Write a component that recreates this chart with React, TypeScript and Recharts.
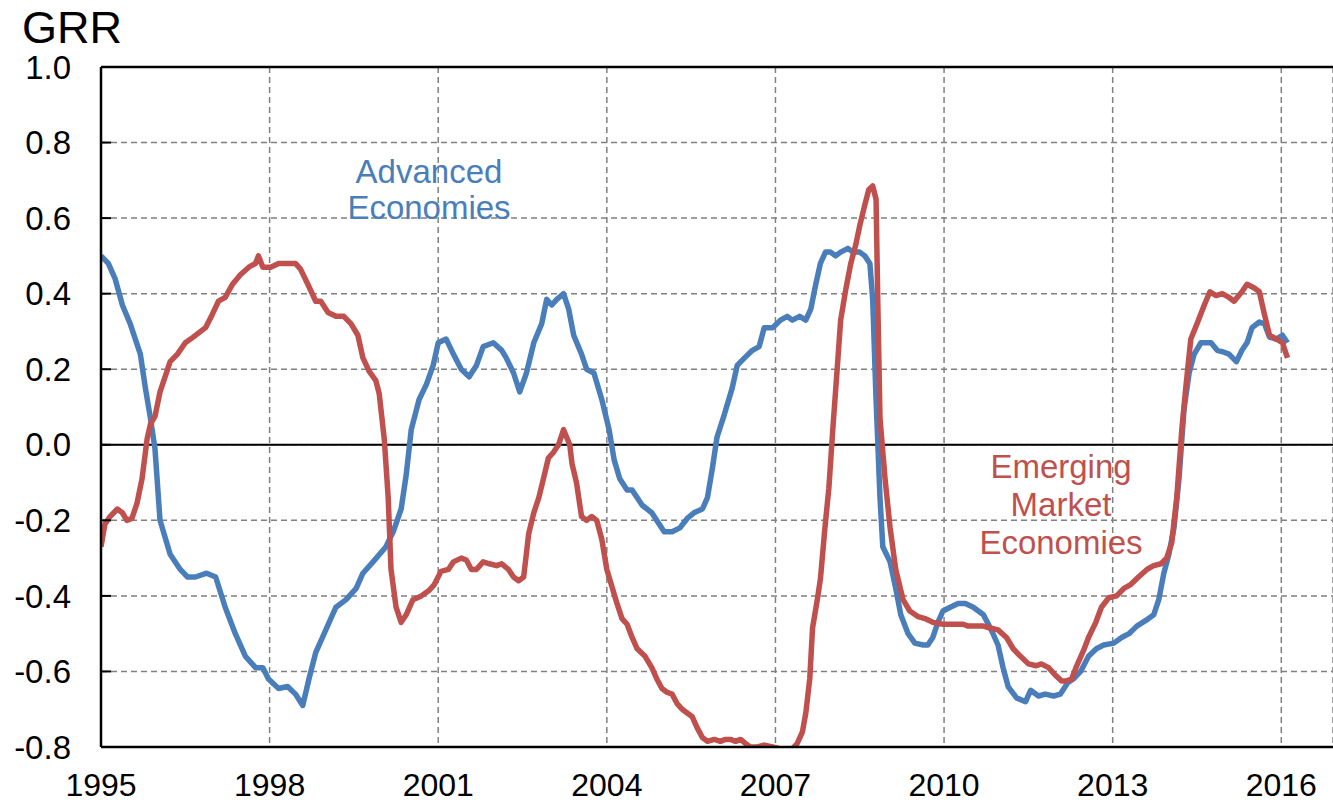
import React from 'react';
import { LineChart, Line, XAxis, YAxis, CartesianGrid, ReferenceLine } from 'recharts';

const FONT = '"Liberation Sans", Arial, sans-serif';
const BLUE = '#4a7ebb';
const RED = '#c0504d';

const X_TICKS = [1995, 1998, 2001, 2004, 2007, 2010, 2013, 2016];
const Y_TICKS = [-0.8, -0.6, -0.4, -0.2, 0, 0.2, 0.4, 0.6, 0.8, 1.0];

// Advanced Economies
const advYears = [
  1995.0, 1995.13, 1995.25, 1995.38, 1995.52, 1995.7, 1995.79, 1995.88, 1995.96, 1996.05,
  1996.23, 1996.41, 1996.54, 1996.68, 1996.88, 1997.04, 1997.21, 1997.39, 1997.57, 1997.75,
  1997.88, 1997.98, 1998.16, 1998.32, 1998.46, 1998.59, 1998.7, 1998.82, 1999.0, 1999.18,
  1999.36, 1999.54, 1999.66, 1999.84, 2000.07, 2000.2, 2000.34, 2000.43, 2000.52, 2000.66,
  2000.79, 2000.91, 2001.0, 2001.14, 2001.27, 2001.41, 2001.55, 2001.68, 2001.8, 2001.98,
  2002.13, 2002.21, 2002.34, 2002.45, 2002.57, 2002.7, 2002.84, 2002.93, 2003.02, 2003.11,
  2003.23, 2003.32, 2003.41, 2003.55, 2003.64, 2003.77, 2003.91, 2004.04, 2004.13, 2004.23,
  2004.36, 2004.45, 2004.63, 2004.8, 2004.93, 2005.02, 2005.16, 2005.3, 2005.43, 2005.55,
  2005.7, 2005.79, 2005.88, 2005.96, 2006.09, 2006.23, 2006.32, 2006.45, 2006.59, 2006.71,
  2006.8, 2006.95, 2007.09, 2007.21, 2007.3, 2007.43, 2007.54, 2007.63, 2007.71, 2007.8,
  2007.89, 2007.98, 2008.07, 2008.16, 2008.29, 2008.38, 2008.5, 2008.59, 2008.68, 2008.73,
  2008.79, 2008.86, 2008.91, 2009.04, 2009.14, 2009.23, 2009.36, 2009.48, 2009.63, 2009.71,
  2009.8, 2009.89, 2009.98, 2010.11, 2010.25, 2010.38, 2010.52, 2010.7, 2010.84, 2010.96,
  2011.05, 2011.14, 2011.29, 2011.45, 2011.54, 2011.68, 2011.8, 2011.95, 2012.07, 2012.2,
  2012.3, 2012.43, 2012.57, 2012.71, 2012.84, 2013.02, 2013.16, 2013.29, 2013.43, 2013.59,
  2013.73, 2013.82, 2013.91, 2014.0, 2014.09, 2014.18, 2014.27, 2014.36, 2014.45, 2014.57,
  2014.75, 2014.86, 2014.98, 2015.07, 2015.2, 2015.3, 2015.39, 2015.48, 2015.61, 2015.7,
  2015.79, 2015.91, 2016.02, 2016.11,
];
const advValues = [
  0.5, 0.48, 0.44, 0.37, 0.32, 0.24, 0.15, 0.07, -0.01, -0.2,
  -0.29, -0.33, -0.35, -0.35, -0.34, -0.35, -0.43, -0.5, -0.56, -0.59,
  -0.59, -0.62, -0.645, -0.64, -0.66, -0.69, -0.62, -0.55, -0.49, -0.43,
  -0.41, -0.38, -0.34, -0.31, -0.27, -0.23, -0.17, -0.08, 0.04, 0.12,
  0.16, 0.21, 0.27, 0.28, 0.24, 0.2, 0.18, 0.21, 0.26, 0.27,
  0.25, 0.23, 0.19, 0.14, 0.19, 0.27, 0.32, 0.385, 0.37, 0.385,
  0.4, 0.36, 0.29, 0.24, 0.2, 0.19, 0.12, 0.04, -0.04, -0.09,
  -0.12, -0.12, -0.16, -0.18, -0.21, -0.23, -0.23, -0.22, -0.195, -0.18,
  -0.17, -0.14, -0.06, 0.02, 0.08, 0.15, 0.21, 0.23, 0.25, 0.26,
  0.31, 0.31, 0.33, 0.34, 0.33, 0.34, 0.33, 0.36, 0.42, 0.48,
  0.51, 0.51, 0.5, 0.51, 0.52, 0.51, 0.51, 0.5, 0.48, 0.385,
  0.12, -0.14, -0.27, -0.31, -0.38, -0.45, -0.5, -0.525, -0.53, -0.53,
  -0.51, -0.47, -0.44, -0.43, -0.42, -0.42, -0.43, -0.45, -0.49, -0.53,
  -0.59, -0.64, -0.67, -0.68, -0.65, -0.665, -0.66, -0.665, -0.66, -0.63,
  -0.62, -0.6, -0.56, -0.54, -0.53, -0.525, -0.51, -0.5, -0.48, -0.465,
  -0.45, -0.41, -0.34, -0.29, -0.22, -0.09, 0.095, 0.19, 0.24, 0.27,
  0.27, 0.25, 0.245, 0.24, 0.22, 0.25, 0.27, 0.31, 0.325, 0.32,
  0.285, 0.28, 0.29, 0.27,
];

// Emerging Market Economies
const emYears = [
  1995.0, 1995.07, 1995.16, 1995.29, 1995.38, 1995.46, 1995.55, 1995.64, 1995.73, 1995.82,
  1995.88, 1995.96, 1996.05, 1996.14, 1996.23, 1996.36, 1996.5, 1996.64, 1996.86, 1996.98,
  1997.09, 1997.21, 1997.34, 1997.48, 1997.63, 1997.75, 1997.8, 1997.88, 1998.02, 1998.16,
  1998.29, 1998.46, 1998.55, 1998.68, 1998.82, 1998.91, 1999.04, 1999.18, 1999.32, 1999.45,
  1999.57, 1999.66, 1999.77, 1999.89, 1999.95, 2000.04, 2000.11, 2000.16, 2000.25, 2000.34,
  2000.43, 2000.55, 2000.7, 2000.84, 2000.93, 2001.05, 2001.18, 2001.27, 2001.41, 2001.5,
  2001.59, 2001.68, 2001.8, 2001.91, 2002.04, 2002.13, 2002.25, 2002.34, 2002.43, 2002.52,
  2002.61, 2002.7, 2002.79, 2002.88, 2002.96, 2003.05, 2003.14, 2003.23, 2003.34, 2003.38,
  2003.46, 2003.55, 2003.64, 2003.73, 2003.82, 2003.91, 2004.0, 2004.09, 2004.18, 2004.27,
  2004.36, 2004.45, 2004.54, 2004.68, 2004.8, 2004.89, 2004.98, 2005.07, 2005.16, 2005.25,
  2005.34, 2005.43, 2005.52, 2005.61, 2005.7, 2005.79, 2005.91, 2006.02, 2006.11, 2006.2,
  2006.29, 2006.38, 2006.46, 2006.55, 2006.68, 2006.8, 2006.95, 2007.09, 2007.3, 2007.39,
  2007.48, 2007.54, 2007.61, 2007.66, 2007.75, 2007.8, 2007.88, 2007.95, 2008.02, 2008.11,
  2008.16, 2008.25, 2008.34, 2008.43, 2008.5, 2008.59, 2008.66, 2008.73, 2008.79, 2008.82,
  2008.86, 2008.95, 2009.04, 2009.14, 2009.27, 2009.39, 2009.54, 2009.66, 2009.8, 2009.98,
  2010.16, 2010.34, 2010.43, 2010.55, 2010.7, 2010.82, 2010.96, 2011.11, 2011.23, 2011.36,
  2011.5, 2011.64, 2011.73, 2011.86, 2011.98, 2012.09, 2012.18, 2012.27, 2012.36, 2012.48,
  2012.57, 2012.7, 2012.8, 2012.93, 2013.07, 2013.2, 2013.32, 2013.46, 2013.61, 2013.73,
  2013.86, 2013.96, 2014.05, 2014.14, 2014.23, 2014.3, 2014.39, 2014.5, 2014.63, 2014.73,
  2014.84, 2014.95, 2015.07, 2015.16, 2015.3, 2015.39, 2015.52, 2015.61, 2015.7, 2015.79,
  2015.91, 2016.02, 2016.11,
];
const emValues = [
  -0.27, -0.21, -0.19, -0.17, -0.18, -0.2, -0.195, -0.155, -0.09, 0.015,
  0.055, 0.075, 0.14, 0.18, 0.22, 0.24, 0.27, 0.285, 0.31, 0.345,
  0.38, 0.39, 0.425, 0.45, 0.47, 0.48, 0.5, 0.47, 0.47, 0.48,
  0.48, 0.48, 0.465, 0.425, 0.38, 0.38, 0.35, 0.34, 0.34, 0.32,
  0.29, 0.23, 0.195, 0.17, 0.135, 0.015, -0.14, -0.33, -0.43, -0.47,
  -0.45, -0.41, -0.4, -0.385, -0.37, -0.335, -0.33, -0.31, -0.3, -0.305,
  -0.33, -0.33, -0.31, -0.315, -0.32, -0.315, -0.33, -0.35, -0.36, -0.35,
  -0.235, -0.18, -0.14, -0.085, -0.035, -0.02, 0.0, 0.04, 0.0, -0.05,
  -0.1, -0.19, -0.2, -0.19, -0.2, -0.25, -0.33, -0.375, -0.42, -0.46,
  -0.475, -0.51, -0.54, -0.56, -0.59, -0.62, -0.645, -0.655, -0.66, -0.685,
  -0.7, -0.71, -0.72, -0.75, -0.775, -0.785, -0.78, -0.785, -0.78, -0.78,
  -0.785, -0.78, -0.79, -0.8, -0.8, -0.795, -0.8, -0.805, -0.805, -0.79,
  -0.76, -0.71, -0.62, -0.485, -0.405, -0.355, -0.22, -0.115, 0.04, 0.225,
  0.33, 0.41, 0.48, 0.53, 0.58, 0.635, 0.675, 0.685, 0.65, 0.385,
  0.07, -0.09, -0.22, -0.33, -0.41, -0.44, -0.455, -0.46, -0.47, -0.475,
  -0.475, -0.475, -0.48, -0.48, -0.48, -0.485, -0.49, -0.51, -0.54, -0.56,
  -0.58, -0.585, -0.58, -0.59, -0.61, -0.625, -0.625, -0.62, -0.585, -0.545,
  -0.51, -0.47, -0.43, -0.405, -0.4, -0.38, -0.37, -0.35, -0.33, -0.32,
  -0.315, -0.3, -0.26, -0.14, 0.04, 0.15, 0.28, 0.32, 0.37, 0.405,
  0.395, 0.4, 0.39, 0.38, 0.405, 0.425, 0.415, 0.405, 0.345, 0.29,
  0.28, 0.27, 0.23,
];

const advData = advYears.map((t, i) => ({ t, v: advValues[i] }));
const emData = emYears.map((t, i) => ({ t, v: emValues[i] }));

// y tick: label to the left, short inward tick mark on the axis
const YTick = ({ x, y, payload }: any) => (
  <g>
    <line x1={x + 30} x2={x + 40} y1={y} y2={y} stroke="#000" strokeWidth={2} />
    <text x={x} y={y} dy="0.355em" textAnchor="end" fill="#000" fontSize={33} fontFamily={FONT}>
      {Number(payload.value).toFixed(1)}
    </text>
  </g>
);

const App: React.FC = () => {
  return (
    <div style={{ position: 'absolute', left: 0, top: 0, width: 1333, height: 803, background: '#fff', fontFamily: FONT }}>
      <div style={{ position: 'absolute', left: 22, top: 11, fontSize: 45, lineHeight: '34px', color: '#000' }}>GRR</div>

      <LineChart
        width={1333}
        height={803}
        margin={{ top: 67, right: 0, left: 0, bottom: 0 }}
      >
        <CartesianGrid stroke="#808080" strokeWidth={1.5} strokeDasharray="6 4" />
        <XAxis
          dataKey="t"
          type="number"
          domain={[1995, 2016.92]}
          ticks={X_TICKS}
          allowDataOverflow
          height={56}
          tickSize={0}
          tickMargin={26}
          axisLine={{ stroke: '#000', strokeWidth: 2.5 }}
          tickLine={false}
          tick={{ fill: '#000', fontSize: 32, fontFamily: FONT }}
        />
        <YAxis
          type="number"
          domain={[-0.8, 1.0]}
          ticks={Y_TICKS}
          allowDataOverflow
          width={101}
          tickSize={0}
          tickMargin={30}
          axisLine={{ stroke: '#000', strokeWidth: 2.5 }}
          tickLine={false}
          tick={<YTick />}
        />
        <ReferenceLine y={0} stroke="#000" strokeWidth={2} />
        <ReferenceLine y={1.0} stroke="#000" strokeWidth={2.5} />
        <Line
          data={advData}
          dataKey="v"
          type="linear"
          stroke={BLUE}
          strokeWidth={5.5}
          dot={false}
          isAnimationActive={false}
          strokeLinejoin="round"
        />
        <Line
          data={emData}
          dataKey="v"
          type="linear"
          stroke={RED}
          strokeWidth={5.5}
          dot={false}
          isAnimationActive={false}
          strokeLinejoin="round"
        />
      </LineChart>

      <div style={{ position: 'absolute', left: 279, top: 154, width: 300, textAlign: 'center', fontSize: 33, lineHeight: '36px', color: BLUE }}>
        Advanced<br />Economies
      </div>
      <div style={{ position: 'absolute', left: 911, top: 448, width: 300, textAlign: 'center', fontSize: 33, lineHeight: '38px', color: RED }}>
        Emerging<br />Market<br />Economies
      </div>
    </div>
  );
};

export default App;
